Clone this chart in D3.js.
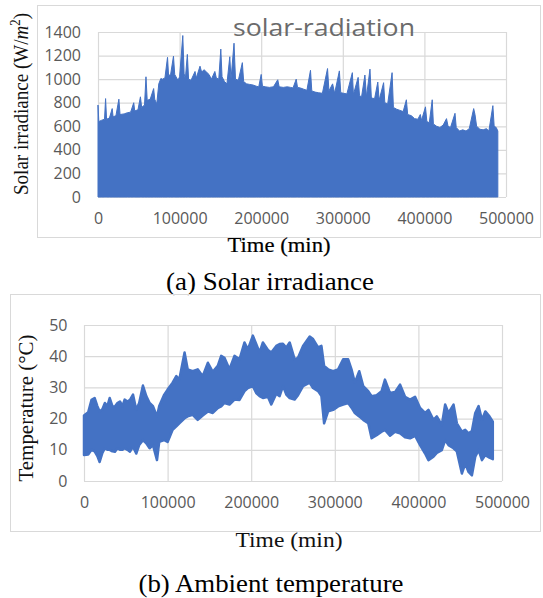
<!DOCTYPE html>
<html>
<head>
<meta charset="utf-8">
<script src="https://cdn.jsdelivr.net/npm/d3@7"></script>
<style>
  html, body { margin: 0; padding: 0; background: #fff; }
  svg { display: block; }
</style>
</head>
<body>
<svg id="chart" width="543" height="598"></svg>
<script>
// ---------------- DATA ----------------
const xTickValues = [0, 100000, 200000, 300000, 400000, 500000];
const solarTickValues = [0, 200, 400, 600, 800, 1000, 1200, 1400];
const tempTickValues = [0, 10, 20, 30, 40, 50];

// (a) Solar irradiance envelope (W/m^2) vs time (min)
const solarTime = [
  0,1000,4000,8000,9300,10500,14000,17400,18500,22000,
  25600,27000,32000,36000,40000,43800,45000,49000,52000,53500,
  57000,58800,60300,64000,68200,69500,72000,74500,77000,79000,
  82000,85200,86500,89000,92500,94000,98000,100000,103900,105500,
  107000,109500,111000,114000,118900,120500,125000,127000,130000,133000,
  136000,139000,143200,145000,148000,150500,152000,155000,158000,161500,
  163000,166700,168500,172000,176900,178500,182000,186000,190000,194000,
  197000,200000,201500,205000,210000,215000,220300,222000,227000,232000,
  236000,239000,242900,244500,248000,252000,256000,260400,262000,266000,
  270000,275000,281300,283000,287500,290000,295800,297500,301000,305000,
  311700,313000,318800,320500,323000,327100,329000,333300,335000,339000,
  342900,344500,350000,351500,355000,360400,362000,366000,370000,374000,
  377900,379500,384000,388000,392000,395000,396500,401300,403000,406000,
  409600,411000,415000,419000,423000,427100,429000,432000,437500,439000,
  443000,447000,451000,455000,460400,462000,464000,468000,472000,476000,
  479000,483900,485500,488000,490000
];
const solarValue = [
  780,640,650,660,835,660,670,750,680,690,
  830,700,705,715,720,800,730,740,850,760,
  780,1020,820,830,920,830,790,960,1005,1000,
  1010,1185,1030,1040,1195,1040,990,1020,1370,1050,
  1000,1210,1000,990,1065,1010,1110,1060,1080,1060,
  1040,1000,1065,1010,1000,1255,1020,980,960,1190,
  1000,1305,1000,990,1140,980,960,955,950,940,
  935,1040,940,935,930,935,995,935,930,935,
  930,925,1000,930,925,915,905,1075,900,890,
  885,880,1090,900,960,880,1070,885,880,875,
  1055,870,1015,860,850,1035,850,1085,840,835,
  975,820,970,800,790,1055,760,745,735,725,
  825,700,690,665,660,700,650,765,640,630,
  825,620,600,590,610,665,600,590,710,590,
  560,570,560,580,750,700,600,575,570,580,
  560,775,600,590,560
];

// (b) Ambient temperature band (°C): daily highs and lows vs time (min)
const tempTime = [
  0,5000,9000,12700,16000,18700,22000,25000,28000,30700,
  34000,37000,40000,43000,46000,48600,52000,55000,58600,62500,
  66000,70500,74500,78500,82500,87300,90000,96000,100000,106000,
  110400,114000,120300,124000,130000,136000,142000,148200,154000,160000,
  164100,168000,174000,180000,186000,192000,196000,202000,206000,210000,
  214000,220000,224000,230000,234000,238000,242000,246000,252000,256000,
  262000,270000,274000,280000,284000,287200,292000,298000,304000,310000,
  316000,320000,324000,329200,334000,340000,344000,350000,356000,360000,
  366000,372000,378000,384000,390000,396000,402000,408000,412000,418000,
  422000,428000,432000,436000,442000,446000,452000,456000,460000,464000,
  468000,472000,476000,480000,485000,489000
];
const tempHigh = [
  21,22,26,26.6,24,22.3,23,25,24,26.6,
  24,23.9,25,25.5,24,26.1,25.5,26,27.7,22.8,
  25,30.6,27.2,25,24,20.7,24,27.7,29.3,31.5,
  33.6,32.5,41.2,35.8,35.2,35.8,33.6,37.9,35,36.9,
  40.1,39.5,35.8,40.1,39,44.4,42.2,46.6,43.9,41.2,
  44.4,42,41.2,43.3,43.9,44,42.8,44.4,39,39.5,
  43.3,46.3,45.5,42.8,43.3,36.9,35.8,35.2,35.8,39,
  39,35.8,31.5,35.2,30.4,28.8,27.2,27.5,28.8,32.5,
  28.2,28.5,30.9,27,26.1,27,23.4,21.8,22.8,19.6,
  20.7,18,24.5,21.8,24.5,18.5,15.8,16.4,15.3,16,
  21.8,24,19.6,22.3,20.7,19
];
const tempLow = [
  8.3,8.5,10,9.5,8,6.1,9,10.5,10,10,
  9.5,9.4,10.5,10,10,10.5,10,9.4,11,8.8,
  11.5,13.1,12.1,10.5,11.5,6.7,12.6,13.1,12.5,16.4,
  17.5,18.5,20.1,20.7,21.2,19.6,21,22.3,21.8,23.4,
  23.9,25,24.5,26.1,26,28.8,29.8,30.4,28.2,27.2,
  26.6,27,24.5,28,27.2,30.4,27.7,26.6,26.1,27.5,
  30.4,31.5,29.8,28.8,27.2,18.5,22.3,22.8,23.9,24.5,
  25,23.5,21.8,20.7,19.6,18.5,13.7,14.7,15.8,16.4,
  14.5,15.8,15.3,14,13.7,14.5,11.5,8.8,6.7,7.8,
  9,9.9,13.1,11.5,10.5,9.5,2.4,5.6,2.9,1.8,
  7.8,9.9,6.7,8.3,7.5,7
];

// ---------------- DRAWING ----------------
const BLUE = "#4472C4";
const GRID = "#d9d9d9";
const TICK_TXT = "#595959";
const SERIF = "'Liberation Serif', 'Times New Roman', serif";
const svg = d3.select("#chart");
svg.append("rect").attr("width", 543).attr("height", 598).attr("fill", "#fff");

function panel(opt) {
  const g = svg.append("g");
  g.append("rect")
    .attr("x", opt.frame[0] + 0.5).attr("y", opt.frame[1] + 0.5)
    .attr("width", opt.frame[2] - opt.frame[0]).attr("height", opt.frame[3] - opt.frame[1])
    .attr("fill", "none").attr("stroke", GRID).attr("stroke-width", 1);

  const x = d3.scaleLinear().domain([0, 500000]).range([opt.left, opt.right]);
  const y = d3.scaleLinear().domain(opt.yDomain).range([opt.bottom, opt.top]);
  const w = opt.right - opt.left, h = opt.bottom - opt.top;

  const xAxis = g.append("g").attr("transform", `translate(0,${opt.bottom})`)
    .call(d3.axisBottom(x).tickValues(xTickValues).tickSize(-h).tickPadding(opt.xPad).tickFormat(d3.format("d")));
  const yAxis = g.append("g").attr("transform", `translate(${opt.left},0)`)
    .call(d3.axisLeft(y).tickValues(opt.yTicks).tickSize(-w).tickPadding(opt.yPad).tickFormat(d3.format("d")));
  [xAxis, yAxis].forEach(a => {
    a.select(".domain").remove();
    a.selectAll("line").attr("stroke", GRID).attr("stroke-width", 1.2);
    a.selectAll("text").attr("fill", TICK_TXT)
      .style("font-family", "'Open Sans', sans-serif").style("font-size", "16px");
  });
  return { g, x, y };
}

// ----- (a) Solar irradiance -----
const A = panel({
  frame: [37, 5, 540, 237],
  left: 98, right: 506, top: 32, bottom: 197,
  yDomain: [0, 1400], yTicks: solarTickValues, xPad: 16, yPad: 17
});
const solarData = solarTime.map((t, i) => ({ t, v: solarValue[i] }));
A.g.append("path").datum(solarData)
  .attr("fill", BLUE).attr("stroke", BLUE).attr("stroke-width", 1)
  .attr("d", d3.area().x(d => A.x(d.t)).y0(A.y(0)).y1(d => A.y(d.v)));

A.g.append("text").attr("x", 324).attr("y", 36).attr("text-anchor", "middle")
  .attr("textLength", 182).attr("lengthAdjust", "spacingAndGlyphs")
  .style("font-family", "'Open Sans', sans-serif").style("font-size", "24px")
  .attr("fill", "#6b6b6b").text("solar-radiation");

const yLabA = A.g.append("text")
  .attr("transform", "translate(28,104) rotate(-90)").attr("text-anchor", "middle")
  .attr("textLength", 182).attr("lengthAdjust", "spacingAndGlyphs")
  .style("font-family", SERIF).style("font-size", "21px")
  .attr("fill", "#111");
yLabA.append("tspan").text("Solar irradiance (W/");
yLabA.append("tspan").style("font-style", "italic").text("m");
yLabA.append("tspan").attr("dy", -8).style("font-size", "14px").text("2");
yLabA.append("tspan").attr("dy", 8).text(")");

A.g.append("text").attr("x", 279).attr("y", 252).attr("text-anchor", "middle")
  .attr("textLength", 103).attr("lengthAdjust", "spacingAndGlyphs")
  .style("font-family", SERIF).style("font-size", "21px")
  .attr("fill", "#000").attr("stroke", "#000").attr("stroke-width", 0.2)
  .text("Time (min)");

A.g.append("text").attr("x", 270).attr("y", 290).attr("text-anchor", "middle")
  .attr("textLength", 208).attr("lengthAdjust", "spacingAndGlyphs")
  .style("font-family", SERIF).style("font-size", "26px")
  .attr("fill", "#000").text("(a) Solar irradiance");

// ----- (b) Ambient temperature -----
const B = panel({
  frame: [10, 294, 540, 531],
  left: 84, right: 502, top: 325, bottom: 481,
  yDomain: [0, 50], yTicks: tempTickValues, xPad: 16, yPad: 16.5
});
const tempData = tempTime.map((t, i) => ({ t, hi: tempHigh[i], lo: tempLow[i] }));
B.g.append("path").datum(tempData)
  .attr("fill", BLUE).attr("stroke", BLUE).attr("stroke-width", 2.5).attr("stroke-linejoin", "round")
  .attr("d", d3.area().x(d => B.x(d.t)).y0(d => B.y(d.lo)).y1(d => B.y(d.hi)));

B.g.append("text")
  .attr("transform", "translate(33,408) rotate(-90)").attr("text-anchor", "middle")
  .attr("textLength", 147).attr("lengthAdjust", "spacingAndGlyphs")
  .style("font-family", SERIF).style("font-size", "21px")
  .attr("fill", "#111").text("Temperature (°C)");

B.g.append("text").attr("x", 289).attr("y", 547).attr("text-anchor", "middle")
  .attr("textLength", 107).attr("lengthAdjust", "spacingAndGlyphs")
  .style("font-family", SERIF).style("font-size", "22px")
  .attr("fill", "#111").text("Time (min)");

B.g.append("text").attr("x", 271).attr("y", 592).attr("text-anchor", "middle")
  .attr("textLength", 265).attr("lengthAdjust", "spacingAndGlyphs")
  .style("font-family", SERIF).style("font-size", "26px")
  .attr("fill", "#000").text("(b) Ambient temperature");
</script>
</body>
</html>
